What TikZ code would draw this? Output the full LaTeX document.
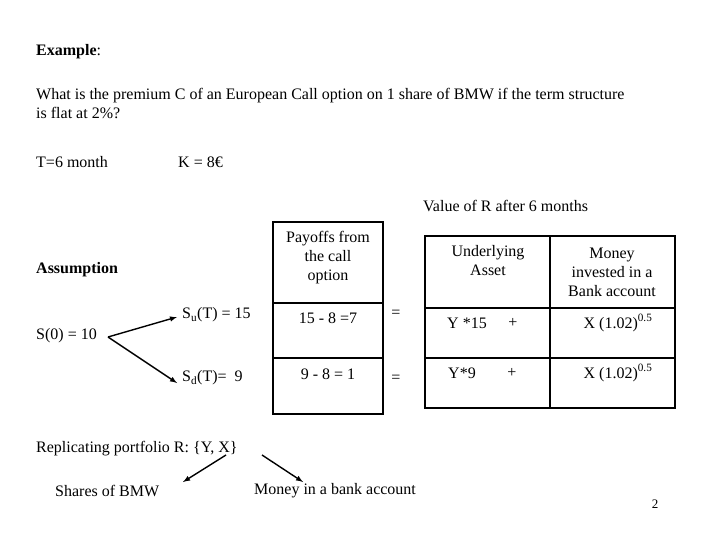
\documentclass[tikz,border=0pt]{standalone}
\usepackage{fontspec}
\setmainfont{Liberation Serif}
\begin{document}
\begin{tikzpicture}[x=1pt,y=-1pt,
  txt/.style={inner sep=0pt,font=\fontsize{16}{19}\selectfont},
  cell/.style={inner sep=0pt,font=\fontsize{16}{19}\selectfont,align=center},
  box/.style={draw,line width=1.6pt},
  arr/.style={-latex,line width=1.4pt}]
\useasboundingbox (0,0) rectangle (720,540);
\node[txt,anchor=west] (ex) at (36,52) {\textbf{Example}:};
\node[txt,anchor=north west,align=left] (q) at (36,88) {What is the premium C of an European Call option on 1 share of BMW if the term structure\\is flat at 2\%?};
\node[txt,anchor=west] (t) at (36,162) {T=6 month};
\node[txt,anchor=west] (k) at (178,162) {K = 8€};
\node[txt,anchor=west] (v) at (423,206) {Value of R after 6 months};
\node[txt,anchor=west] (as) at (36,270) {\textbf{Assumption}};
\node[txt,anchor=west] (s0) at (36,336) {S(0) = 10};
\node[txt,anchor=west] (su) at (182,315) {S\textsubscript{u}(T) = 15};
\node[txt,anchor=west] (sd) at (182,378) {S\textsubscript{d}(T)=\ \ 9};
\coordinate (s0e) at (108,337);
\draw[arr] (s0e) -- (177,317);
\draw[arr] (s0e) -- (177,383);
% payoff box
\draw[box] (273,222) rectangle (383,414);
\draw[box] (273,303) -- (383,303);
\draw[box] (273,358) -- (383,358);
\node[cell] (p1) at (328,258) {Payoffs from\\the call\\option};
\node[cell] (p2) at (328,318) {15 - 8 =7};
\node[cell] (p3) at (328,374) {9 - 8 = 1};
\node[txt] (e1) at (396,314) {=};
\node[txt] (e2) at (396,379) {=};
% right table
\draw[box] (425,236) rectangle (675,408);
\draw[box] (550,236) -- (550,408);
\draw[box] (425,308) -- (675,308);
\draw[box] (425,358) -- (675,358);
\node[cell] (u) at (488,261) {Underlying\\Asset};
\node[cell] (m) at (612,272) {Money\\invested in a\\Bank account};
\node[txt] (y1) at (467,323) {Y *15};
\node[txt] (pl1) at (513,323) {+};
\node[txt] (y2) at (462,373) {Y*9};
\node[txt] (pl2) at (512,373) {+};
\node[txt] (x1) at (618,323) {X (1.02)\textsuperscript{0.5}};
\node[txt] (x2) at (618,373) {X (1.02)\textsuperscript{0.5}};
% bottom
\node[txt,anchor=west] (rp) at (36,449) {Replicating portfolio R: \{Y, X\}};
\node[txt,anchor=west] (sh) at (55,491) {Shares of BMW};
\node[txt,anchor=west] (mb) at (254,491) {Money in a bank account};
\coordinate (ry) at (226,455);
\coordinate (rx) at (262,455);
\draw[arr] (ry) -- (183,482);
\draw[arr] (rx) -- (303,482);
\node[inner sep=0pt,font=\fontsize{13}{15}\selectfont] (pg) at (655,504) {2};
\end{tikzpicture}
\end{document}
